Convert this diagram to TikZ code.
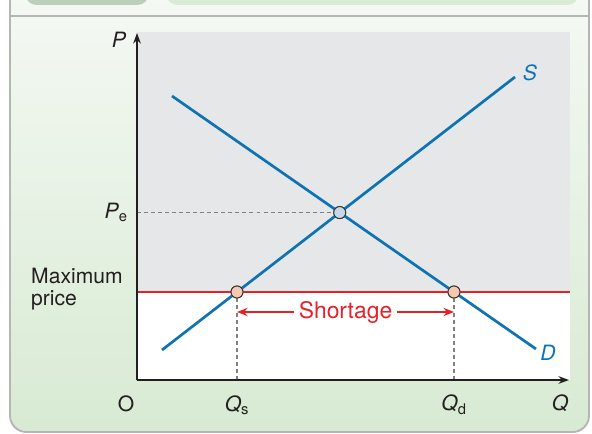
\documentclass[tikz,border=0pt]{standalone}
\usepackage{fontspec}
\setmainfont{TeX Gyre Heros}
\setsansfont{TeX Gyre Heros}
\usepackage{tikz}
\usetikzlibrary{arrows.meta,positioning,calc}
\definecolor{framegray}{HTML}{B4B6B4}
\definecolor{paneltop}{HTML}{F5F9F4}
\definecolor{panelbot}{HTML}{D8EAD3}
\definecolor{tabdark}{HTML}{BCCFBB}
\definecolor{tablight}{HTML}{D9EBD5}
\definecolor{plotgray}{HTML}{E6E7E8}
\definecolor{curve}{HTML}{0D73B3}
\definecolor{ceil}{HTML}{E42029}
\definecolor{dotpeach}{HTML}{F6C8AF}
\definecolor{dotblue}{HTML}{C6D7E9}
\definecolor{axisblack}{HTML}{231F20}

\begin{document}
\begin{tikzpicture}[
  x=0.3mm,y=0.3mm,
  font=\sffamily\fontsize{18}{19}\selectfont,>=Stealth,
  axis/.style={->, line width=1.1pt, color=axisblack, >={Stealth[length=9pt,width=6.5pt]}},
  curveline/.style={line width=2.3pt, color=curve},
  ceilline/.style={line width=2.5pt, color=ceil},
  guide/.style={dash pattern=on 3.4pt off 2.6pt, line width=0.9pt, color=black!50},
  gaparr/.style={->, line width=1.2pt, color=ceil, >={Stealth[length=9pt,width=7pt]}},
  lbl/.style={text=axisblack, inner sep=0pt},
  clbl/.style={text=curve, inner sep=0pt, font=\sffamily\itshape\fontsize{18}{19}\selectfont},
  dotnode/.style={circle, draw=black!80, line width=0.8pt, minimum size=3.6mm, inner sep=0pt},
]
\useasboundingbox (0,0) rectangle (592,433);
\clip (0,0) rectangle (592,433);

% panel
\shade[top color=paneltop,bottom color=panelbot,rounded corners=14] (10,445) -- (10,1) -- (589,1) -- (589,445) -- cycle;
\fill[tabdark,rounded corners=10] (25,428) rectangle (149,450);
\fill[tablight,rounded corners=10] (166,428) rectangle (579,450);
\draw[framegray,line width=1.6pt,rounded corners=14] (10,445) -- (10,1) -- (589,1) -- (589,445);
\draw[framegray,line width=1.6pt] (10,417) -- (589,417);

% plot areas
\fill[plotgray] (137,141) rectangle (570,401);
\fill[white] (137,53) rectangle (570,141);

% axes and curves
\coordinate (o) at (137,53);
\coordinate (ytop) at (137,400);
\coordinate (xend) at (569,53);
\coordinate (s0) at (162,83);
\coordinate (s1) at (515,356);
\coordinate (d0) at (172,337);
\coordinate (d1) at (536,84);
\coordinate (m0) at (137,141);
\coordinate (m1) at (570,141);

\node[dotnode,fill=dotblue] (eq) at (intersection of s0--s1 and d0--d1) {};
\node[dotnode,fill=dotpeach] (qs) at (intersection of s0--s1 and m0--m1) {};
\node[dotnode,fill=dotpeach] (qd) at (intersection of d0--d1 and m0--m1) {};

\draw[guide] (eq -| o) -- (eq.west);
\draw[guide] (qs.south) -- (qs |- o);
\draw[guide] (qd.south) -- (qd |- o);
\draw[ceilline] (m0) -- (m1);
\draw[curveline] (s0) -- (s1);
\draw[curveline] (d0) -- (d1);
\draw[axis] (o) -- (ytop);
\draw[axis] (o) -- (xend);

% redraw dots on top
\node[dotnode,fill=dotblue] at (eq) {};
\node[dotnode,fill=dotpeach] at (qs) {};
\node[dotnode,fill=dotpeach] at (qd) {};

% shortage
\node[text=ceil,inner sep=0pt,font=\sffamily\fontsize{19.5}{20}\selectfont] (short) at ($(qs)!0.5!(qd)+(0,-20)$) {Shortage};
\draw[gaparr] ([xshift=-1.5mm]short.west) -- (short -| qs);
\draw[gaparr] ([xshift=1.5mm]short.east) -- (short -| qd);

% labels
\node[lbl] (plab) at (119,393) {\textit{P}};
\node[lbl,anchor=east] (pelab) at ([xshift=-2.7mm]eq -| o) {\textit{P}\textsubscript{e}};
\node[lbl] (olab) at (126,29) {O};
\node[lbl] (qslab) at (qs |- 0,28) {\textit{Q}\textsubscript{s}};
\node[lbl] (qdlab) at (qd |- 0,28) {\textit{Q}\textsubscript{d}};
\node[lbl] (qlab) at (560,30) {\textit{Q}};
\node[clbl] (slab) at (530,360) {S};
\node[clbl] (dlab) at (548,80) {D};
\node[lbl,anchor=west,align=left] (maxlab) at (31,144) {Maximum\\price};

\end{tikzpicture}
\end{document}
